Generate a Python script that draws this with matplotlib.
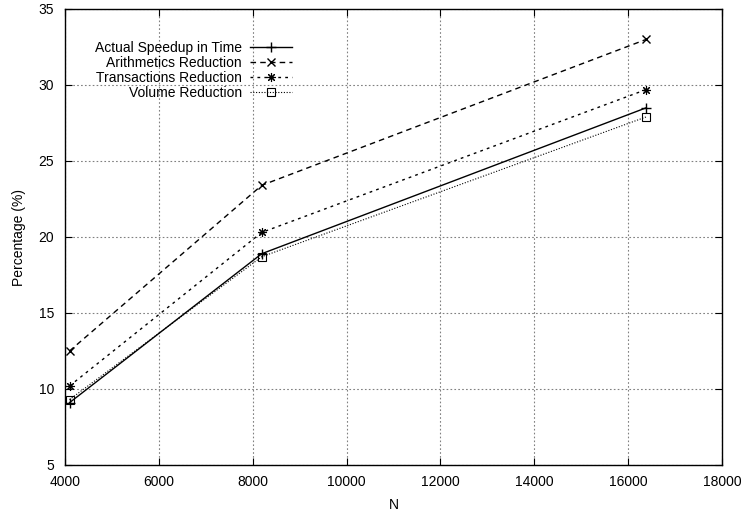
import matplotlib
matplotlib.use("Agg")
import matplotlib.pyplot as plt

plt.rcParams['font.family'] = ['Liberation Sans', 'DejaVu Sans']

# data
N = [4096, 8192, 16384]
speedup = [9.1, 18.9, 28.5]
arith = [12.5, 23.4, 33.0]
trans = [10.2, 20.3, 29.7]
volume = [9.3, 18.7, 27.9]
xticks = [4000, 6000, 8000, 10000, 12000, 14000, 16000, 18000]
yticks = [5, 10, 15, 20, 25, 30, 35]

fig = plt.figure(figsize=(7.45, 5.17), dpi=100)
ax = fig.add_axes([65/745, 52/517, 657/745, 456/517])

ax.plot(N, speedup, color='black', lw=1, ls='-', marker='+', ms=7, mew=1,
        label='Actual Speedup in Time')
ax.plot(N, arith, color='black', lw=1, ls=(0, (4, 3)), marker='x', ms=6, mew=1,
        label='Arithmetics Reduction')
ax.plot(N, trans, color='black', lw=1, ls=(0, (2, 3)), marker=(8, 2, 0), ms=6.5, mew=0.8,
        label='Transactions Reduction')
ax.plot(N, volume, color='black', lw=0.8, ls=(0, (1, 1.5)), marker='s', ms=6, mew=0.8,
        mfc='none', label='Volume Reduction')

ax.set_xlim(4000, 18000)
ax.set_ylim(5, 35)
ax.set_xticks(xticks)
ax.set_yticks(yticks)
ax.tick_params(direction='in', top=True, right=True, labelsize=10, length=5)
ax.tick_params(axis='y', pad=8)
ax.tick_params(axis='x', pad=7)
ax.grid(True, color='#808080', ls=(0, (1.5, 2)), lw=0.8)
for s in ax.spines.values():
    s.set_linewidth(1)

ax.set_xlabel('N', fontsize=10, labelpad=7)
ax.set_ylabel('Percentage (%)', fontsize=10, labelpad=9)

leg = ax.legend(loc='upper right', bbox_to_anchor=(0.3455, 0.93), markerfirst=False,
                frameon=False, fontsize=10, handlelength=3.0, handletextpad=0.6,
                labelspacing=0.08, borderaxespad=0, borderpad=0)
for col in leg._legend_handle_box.get_children():
    col.align = 'right'

fig.savefig('out.png', dpi=100)
